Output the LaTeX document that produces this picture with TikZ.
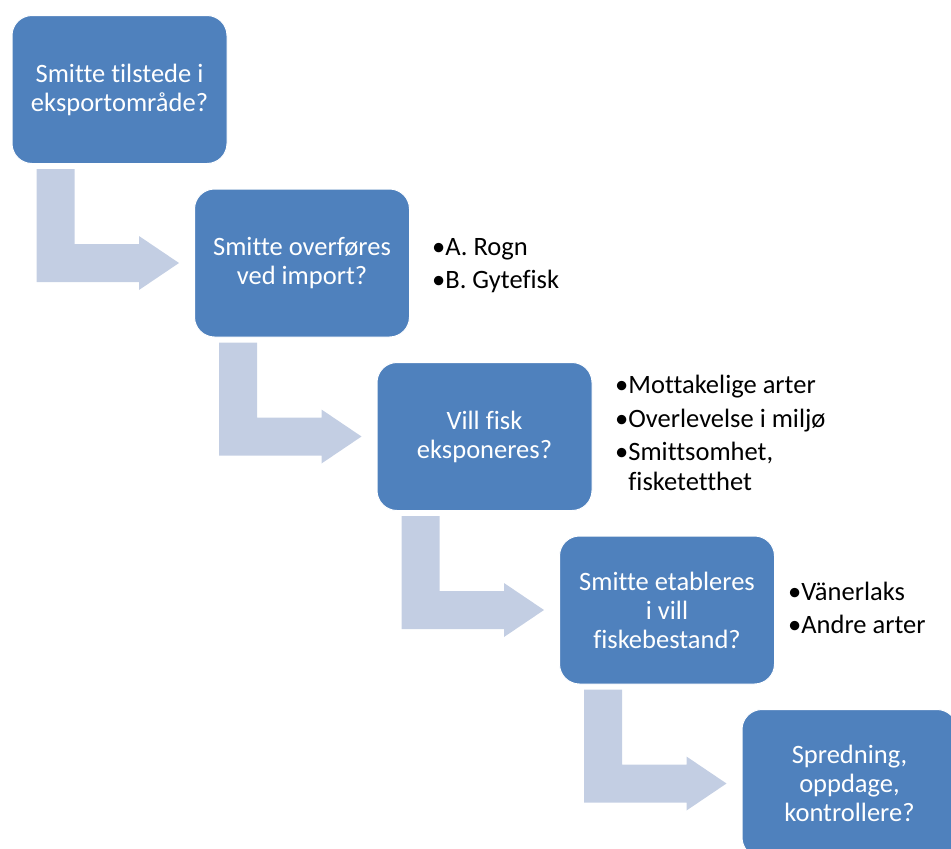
\documentclass[tikz,border=0pt]{standalone}
\usepackage{fontspec}
\setmainfont{Carlito}[Ligatures={NoCommon}]
\usetikzlibrary{calc}
\definecolor{boxblue}{HTML}{4F81BD}
\definecolor{arrowgrey}{HTML}{C3CEE3}
\tikzset{
	qbox/.style={fill=boxblue, draw=white, line width=1pt, rounded corners=20pt, minimum width=215pt, minimum height=148pt, inner sep=0pt, align=center, text=white, font=\fontsize{26.5}{29}\selectfont},
	punkt/.style={anchor=base west, inner sep=0pt, font=\fontsize{26.5}{29}\selectfont},
	bendfill/.style={fill=arrowgrey}
}
\newcommand{\bendarrow}[2]{%
	\fill[bendfill] let \p1=($(#1.south west)+(25,5)$), \p2=($(#2.west)+(-15,0)$) in
		(\x1,\y1) -- (\x1+38pt,\y1) -- (\x1+38pt,\y2+19pt) -- (\x2-40pt,\y2+19pt) -- (\x2-40pt,\y2+27pt)
		-- (\x2,\y2) -- (\x2-40pt,\y2-27pt) -- (\x2-40pt,\y2-19pt) -- (\x1,\y2-19pt) -- cycle;}
\begin{document}
\begin{tikzpicture}[x=1pt,y=-1pt]
			\useasboundingbox (0,0) rectangle (951,849);
			\node[qbox] (eksport) at (119.5,89.5) {Smitte tilstede i\\eksportområde?};
			\node[qbox] (import) at (302,263) {Smitte overføres\\ved import?};
			\node[qbox] (eksponert) at (484.5,436.5) {Vill fisk\\eksponeres?};
			\node[qbox] (etablert) at (667,610) {Smitte etableres\\i vill\\fiskebestand?};
			\node[qbox] (spredning) at (849.5,783.5) {Spredning,\\oppdage,\\kontrollere?};
			\bendarrow{eksport}{import}
			\bendarrow{import}{eksponert}
			\bendarrow{eksponert}{etablert}
			\bendarrow{etablert}{spredning}
			\node[punkt] (rogn) at (432,255) {•A. Rogn};
			\node[punkt] (gytefisk) at (432,288) {•B. Gytefisk};
			\node[punkt] (arter) at (615,393) {•Mottakelige arter};
			\node[punkt] (miljo) at (615,427) {•Overlevelse i miljø};
			\node[punkt] (smittsom) at (615,460) {•Smittsomhet,};
			\node[punkt] (tetthet) at (615,490) {\phantom{•}fisketetthet};
			\node[punkt] (vaner) at (788,600) {•Vänerlaks};
			\node[punkt] (andre) at (788,633) {•Andre arter};
\end{tikzpicture}
\end{document}
